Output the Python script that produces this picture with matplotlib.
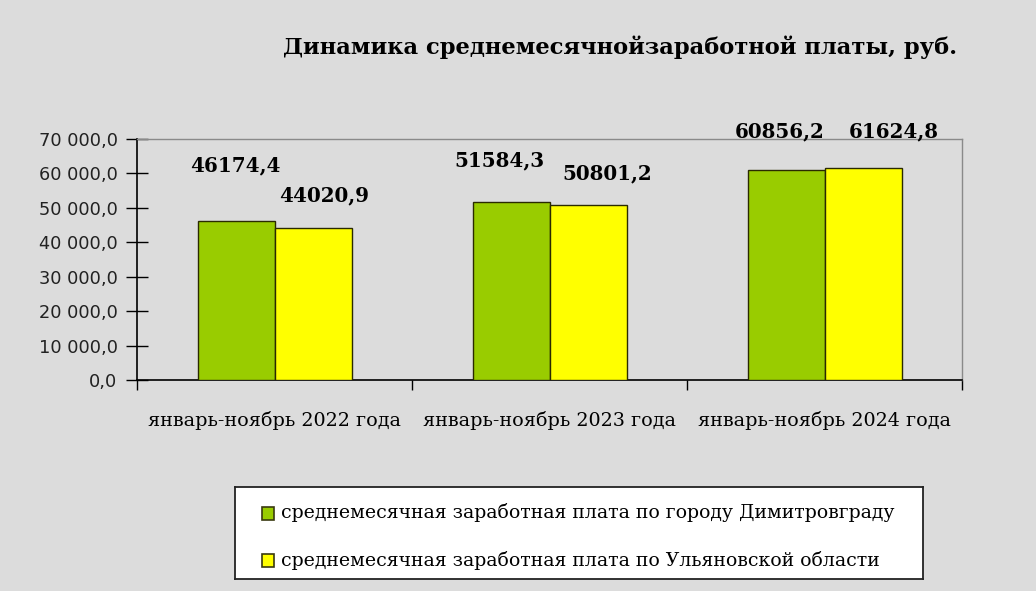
import matplotlib
matplotlib.use("Agg")
import matplotlib.pyplot as plt
import numpy as np
from matplotlib.patches import Rectangle
from matplotlib.ticker import FuncFormatter, MultipleLocator

categories = ["январь-ноябрь 2022 года", "январь-ноябрь 2023 года", "январь-ноябрь 2024 года"]
city_values = [46174.4, 51584.3, 60856.2]
region_values = [44020.9, 50801.2, 61624.8]
series_names = ["среднемесячная заработная плата по городу Димитровграду",
                "среднемесячная заработная плата по Ульяновской области"]
title = "Динамика среднемесячнойзаработной платы, руб."

# label offsets in pixels relative to bar top centres (style)
city_label_off = [(-1, 56), (-12, 42), (-6, 39)]
region_label_off = [(11, 33), (19, 32), (31, 36)]

fig = plt.figure(figsize=(10.36, 5.91), dpi=100)
fig.patch.set_facecolor("#dcdcdc")

ax = fig.add_axes([137/1036, 1-380/591, 825/1036, 241/591])
ax.set_facecolor("none")

x = np.arange(len(categories))
w = 0.28
ax.bar(x - w/2, city_values, w, color="#99cc00", edgecolor="#2a2a00", linewidth=1.0, zorder=3)
ax.bar(x + w/2, region_values, w, color="#ffff00", edgecolor="#2a2a00", linewidth=1.0, zorder=3)

serif = ["DejaVu Serif"]
for i in range(len(categories)):
    ax.annotate(f"{city_values[i]:.1f}".replace(".", ","), (x[i] - w/2, city_values[i]),
                xytext=city_label_off[i], textcoords="offset pixels",
                ha="center", va="center", fontsize=14.3, fontweight="bold", family=serif,
                annotation_clip=False)
    ax.annotate(f"{region_values[i]:.1f}".replace(".", ","), (x[i] + w/2, region_values[i]),
                xytext=region_label_off[i], textcoords="offset pixels",
                ha="center", va="center", fontsize=14.3, fontweight="bold", family=serif,
                annotation_clip=False)

ax.set_xlim(-0.5, 2.5)
ax.set_ylim(0, 70000)
ax.yaxis.set_major_locator(MultipleLocator(10000))
ax.yaxis.set_major_formatter(FuncFormatter(lambda v, p: f"{v:,.1f}".replace(",", " ").replace(".", ",")))
ax.tick_params(axis="y", direction="inout", length=16, width=1, labelsize=12.8, pad=6)
for lab in ax.get_yticklabels():
    lab.set_family(["DejaVu Sans"])
    lab.set_color("#222222")

ax.set_xticks([-0.5, 0.5, 1.5, 2.5], minor=False)
ax.set_xticklabels([])
ax.set_xticks(x, minor=True)
ax.set_xticklabels(categories, minor=True, fontsize=13.8, family=serif)
ax.tick_params(axis="x", which="major", direction="out", length=7, width=1)
ax.tick_params(axis="x", which="minor", length=0, pad=22)

for s in ["left", "bottom"]:
    ax.spines[s].set_color("black")
    ax.spines[s].set_linewidth(1.2)
for s in ["top", "right"]:
    ax.spines[s].set_color("#8a8a8a")
    ax.spines[s].set_linewidth(1.0)

fig.text(620/1036, 1-47/591, title, ha="center", va="center", fontsize=16.3,
         fontweight="bold", family=serif)

# legend
lx0, ly0, lw, lh = 235, 487, 688, 92
leg_ax = fig.add_axes([lx0/1036, 1-(ly0+lh)/591, lw/1036, lh/591])
leg_ax.set_xlim(0, lw)
leg_ax.set_ylim(lh, 0)
leg_ax.set_xticks([]); leg_ax.set_yticks([])
leg_ax.set_facecolor("white")
for s in leg_ax.spines.values():
    s.set_color("#222222"); s.set_linewidth(1.3)
colors = ["#99cc00", "#ffff00"]
for i, (name, c) in enumerate(zip(series_names, colors)):
    yy = 26 + i * 47
    leg_ax.add_patch(Rectangle((27, yy - 6.5), 12, 13, facecolor=c, edgecolor="#3a3a10", linewidth=1.2))
    leg_ax.text(46, yy, name, va="center", ha="left", fontsize=13.6, family=serif)

fig.savefig("out.png", dpi=100, facecolor=fig.get_facecolor())
